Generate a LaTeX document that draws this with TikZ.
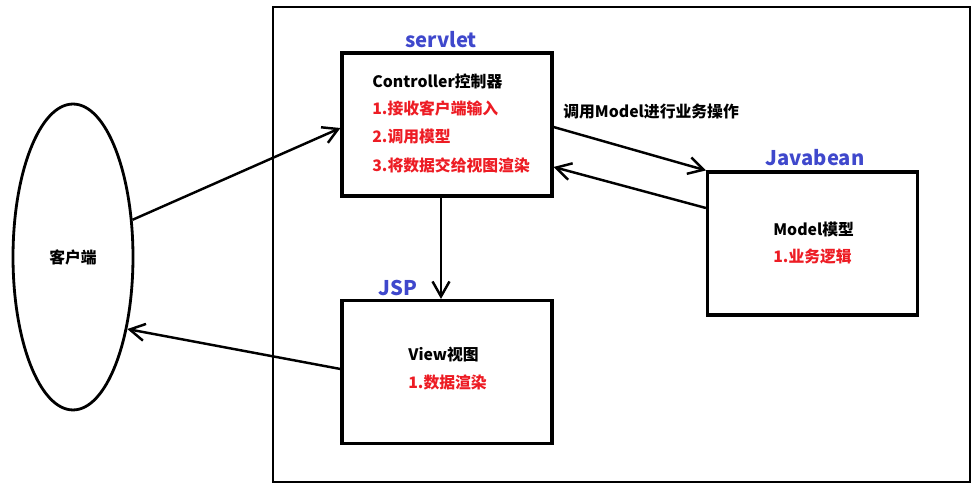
\documentclass[tikz,border=0pt]{standalone}
\usepackage{fontspec}
\setmainfont{Noto Sans CJK SC}
\usetikzlibrary{arrows.meta,shapes.geometric,positioning}
\definecolor{paintred}{RGB}{237,28,36}
\definecolor{paintblue}{RGB}{63,72,204}
\tikzset{
  block/.style={
    shape = rectangle,
    draw,
    line width = 1.8pt,
    minimum width = 4.2cm,
    minimum height = 2.86cm,
    inner sep = 0pt
  },
}
\tikzset{
  client/.style={
    shape = ellipse,
    draw,
    line width = 1.6pt,
    minimum width = 2.4cm,
    minimum height = 6.12cm,
    inner sep = 0pt,
    font = \fontsize{9}{11}\selectfont\bfseries
  },
}
\tikzset{
  flow/.style={
    line width = 1.4pt,
    -{Straight Barb[length=0.3cm,width=0.34cm,line width=1.4pt]}
  },
  heading/.style={
    anchor = west,
    inner sep = 0pt,
    font = \fontsize{9}{11}\selectfont\bfseries
  },
  duty/.style={
    anchor = west,
    inner sep = 0pt,
    text = paintred,
    font = \fontsize{9}{11}\selectfont\bfseries
  },
  tag/.style={
    inner sep = 0pt,
    text = paintblue,
    font = \fontsize{11.5}{13}\selectfont\bfseries
  }
}

\begin{document}
\begin{tikzpicture}[x=0.02cm,y=-0.02cm]
        \useasboundingbox (0,0) rectangle (978,489);
        \draw[line width=1.3pt] (273,7) rectangle (970,482);
        % client side
        \node[client] (client) at (73,257) {客户端};
        % controller
        \node[block] (ctrl) at (447,124.5) {};
        \node[tag] (servlet) at (441,40) {servlet};
        \node[heading] (ctrltitle) at (372,81) {Controller控制器};
        \node[duty] (ctrla) at (372,108) {1.接收客户端输入};
        \node[duty] (ctrlb) at (372,137) {2.调用模型};
        \node[duty] (ctrlc) at (372,165) {3.将数据交给视图渲染};
        % model
        \node[block] (model) at (812.5,243.5) {};
        \node[tag] (javabean) at (815,158) {Javabean};
        \node[heading] (modeltitle) at (773,229) {Model模型};
        \node[duty] (modela) at (773,257) {1.业务逻辑};
        % view
        \node[block] (view) at (447,372) {};
        \node[tag] (jsp) at (398,288) {JSP};
        \node[heading] (viewtitle) at (408,355) {View视图};
        \node[duty] (viewa) at (408,383) {1.数据渲染};
        % arrows
        \draw[flow] (client.32) -- ([yshift=-0.07cm]ctrl.west);
        \draw[flow] ([yshift=-0.05cm]ctrl.east) -- (model.north west);
        \node[heading] (callmodel) at (563,112) {调用Model进行业务操作};
        \draw[flow] ([yshift=0.71cm]model.west) -- ([yshift=-0.85cm]ctrl.east);
        \draw[flow] ([xshift=-0.12cm]ctrl.south) -- ([xshift=-0.12cm]view.north);
        \draw[flow] ([yshift=0.06cm]view.west) -- (client.-53);
    \end{tikzpicture}
\end{document}
